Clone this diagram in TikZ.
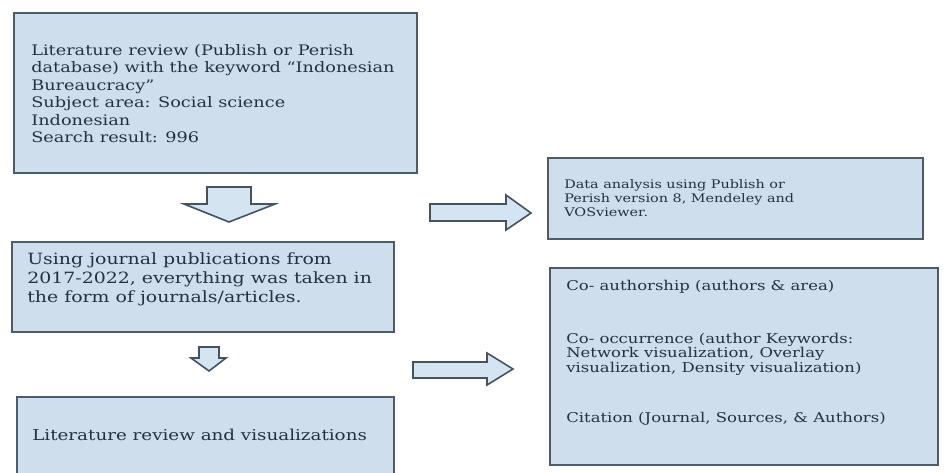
\documentclass[tikz,border=0pt]{standalone}
\usepackage{fontspec}
\setmainfont[FakeStretch=1.22]{DejaVu Serif}
\usetikzlibrary{calc,positioning}
\definecolor{boxfill}{RGB}{206,222,236}
\definecolor{boxline}{RGB}{78,92,106}
\definecolor{arrowfill}{RGB}{212,228,241}
\definecolor{inktext}{RGB}{36,50,64}

\begin{document}
\begin{tikzpicture}[x=1pt,y=-1pt,
  box/.style={draw=boxline,line width=1.8pt,fill=boxfill,inner sep=0pt},
  txt/.style={inner sep=0pt,align=left,anchor=north west,text=inktext},
  blockarrow/.style={draw=boxline!90!black,line width=1.6pt,fill=arrowfill,line join=miter}]
\useasboundingbox[fill=white] (0,0) rectangle (945,473);
\node[box,minimum width=403pt,minimum height=160pt] (search) at (215.5,93) {};
\node[box,minimum width=382pt,minimum height=90pt] (journals) at (203,287) {};
\node[box,minimum width=377pt,minimum height=110pt] (review) at (205.5,452) {};
\node[box,minimum width=375pt,minimum height=81pt] (analysis) at (735.5,198.5) {};
\node[box,minimum width=388pt,minimum height=197pt] (mapping) at (744,366.5) {};
\node[txt,font=\fontsize{14.5}{17.5}\selectfont] (searchtext) at ($(search.north west)+(18,32)$)
  {Literature review (Publish or Perish\\database) with the keyword “Indonesian\\Bureaucracy”\\Subject area: Social science\\Indonesian\\Search result: 996};
\node[txt,font=\fontsize{15.5}{19}\selectfont] (journalstext) at ($(journals.north west)+(16,11)$)
  {Using journal publications from\\2017-2022, everything was taken in\\the form of journals/articles.};
\node[txt,font=\fontsize{15}{18}\selectfont] (reviewtext) at ($(review.north west)+(16,33)$)
  {Literature review and visualizations};
\node[txt,font=\fontsize{11.8}{14}\selectfont] (analysistext) at ($(analysis.north west)+(17,22)$)
  {Data analysis using Publish or\\Perish version 8, Mendeley and\\VOSviewer.};
\node[txt,font=\fontsize{13.5}{14.7}\selectfont] (mappingtext) at ($(mapping.north west)+(17,13)$)
  {Co- authorship (authors \& area)\\[38pt]Co- occurrence (author Keywords:\\Network visualization, Overlay\\visualization, Density visualization)\\[35pt]Citation (Journal, Sources, \& Authors)};
\draw[blockarrow] (207,187) -- (251,187) -- (251,204) -- (275,204) -- (229,222) -- (184,204) -- (207,204) -- cycle;
\draw[blockarrow] (199,347) -- (219,347) -- (219,358) -- (226,358) -- (209,371) -- (191,358) -- (199,358) -- cycle;
\draw[blockarrow] (430,204) -- (506,204) -- (506,195) -- (531,213) -- (506,230) -- (506,221) -- (430,221) -- cycle;
\draw[blockarrow] (413,362) -- (487,362) -- (487,353) -- (513,369) -- (487,385) -- (487,378) -- (413,378) -- cycle;
\end{tikzpicture}
\end{document}
